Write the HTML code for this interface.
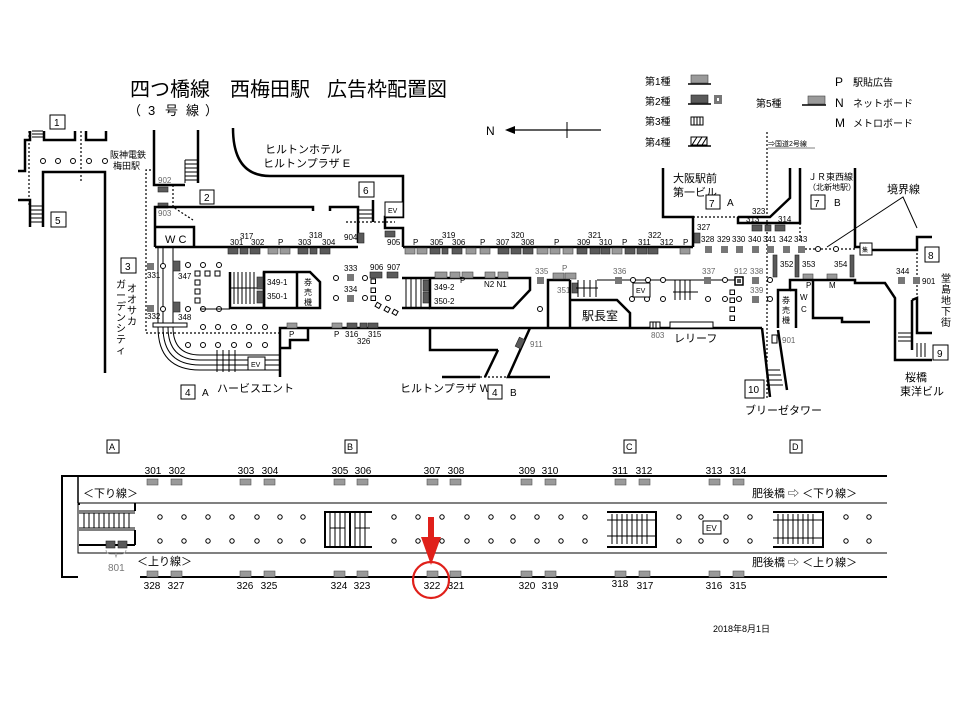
<!DOCTYPE html>
<html><head><meta charset="utf-8"><style>
html,body{margin:0;padding:0;background:#fff}
svg{display:block}
text{font-family:"Liberation Sans","Noto Sans CJK JP",sans-serif;fill:#000}
.s{font-size:8px;fill:#666}
.m{font-size:11px}
.w{stroke:#000;stroke-width:2.5;fill:none}
.t{stroke:#000;stroke-width:1;fill:none}
.d{stroke:#000;stroke-width:1.2;fill:none;stroke-dasharray:2,2}
.a{fill:#9a9a9a;stroke:#444;stroke-width:.6}
.k{fill:#5a5a5a;stroke:#222;stroke-width:.6}
.c{fill:#fff;stroke:#000;stroke-width:1}
.bx{fill:#fff;stroke:#000;stroke-width:1}
</style></head><body>
<svg width="960" height="720" viewBox="0 0 960 720" xmlns="http://www.w3.org/2000/svg">
<!-- Title -->
<g style="font-size:20px">
<text x="130" y="96">四つ橋線</text><text x="230" y="96">西梅田駅</text><text x="327" y="96">広告枠配置図</text>
</g>
<g style="font-size:13px"><text x="128" y="115">（</text><text x="148" y="115">3</text><text x="165" y="115">号</text><text x="186" y="115">線</text><text x="205" y="115">）</text></g>
<!-- legend -->
<g style="font-size:10px">
<text x="645" y="85">第1種</text><rect x="691" y="75" width="17" height="8" class="a"/><line x1="688" y1="84" x2="711" y2="84" stroke="#000" stroke-width="1.5"/>
<text x="645" y="105">第2種</text><rect x="691" y="95" width="17" height="8" class="k"/><line x1="688" y1="104" x2="711" y2="104" stroke="#000" stroke-width="1.5"/><rect x="714" y="95" width="8" height="9" fill="#777"/><rect x="717" y="98" width="2" height="3" fill="#fff"/>
<text x="645" y="125">第3種</text><rect x="691" y="117" width="12" height="8" fill="#fff" stroke="#000"/><path d="M694 117v8M697 117v8M700 117v8" stroke="#000"/>
<text x="645" y="146">第4種</text><rect x="691" y="137" width="16" height="8" fill="#fff" stroke="#000"/><path d="M692 145l5-8M697 145l5-8M702 145l5-8" stroke="#000"/><line x1="688" y1="146" x2="711" y2="146" stroke="#000" stroke-width="1.5"/>
<text x="756" y="107">第5種</text><rect x="808" y="96" width="17" height="8" class="a"/><line x1="802" y1="105" x2="826" y2="105" stroke="#000" stroke-width="1.5"/>
<text x="835" y="86" style="font-size:12px">P</text><text x="853" y="86">駅貼広告</text>
<text x="835" y="107" style="font-size:12px">N</text><text x="853" y="107">ネットボード</text>
<text x="835" y="127" style="font-size:12px">M</text><text x="853" y="127">メトロボード</text>
<text x="768" y="146" style="font-size:7px">⇒国道2号線</text><line x1="768" y1="148" x2="815" y2="148" stroke="#000" stroke-width=".5"/>
</g>
<!-- N arrow -->
<text x="486" y="135" style="font-size:12px">N</text>
<line x1="510" y1="130" x2="601" y2="130" stroke="#000" stroke-width="1.2"/><path d="M505 130l10-4v8z"/><line x1="567" y1="122" x2="567" y2="138" stroke="#000"/>

<!-- top-left area -->
<rect x="50" y="115" width="15" height="14" class="bx"/><text x="54" y="126" class="m" style="font-size:10px">1</text>
<polyline points="18,171 25,171 25,140 30,140 30,131" class="w"/>
<path d="M32 131h11M32 134h11M32 137h11" class="t"/>
<polyline points="44,131 44,140 75,140 75,131" class="w"/>
<polyline points="86,131 86,140 106,140 106,131" class="w"/>
<line x1="29" y1="131" x2="29" y2="205" class="d"/><line x1="81" y1="131" x2="81" y2="181" class="d"/>
<g class="c"><circle cx="43" cy="161" r="2.5"/><circle cx="58" cy="161" r="2.5"/><circle cx="73" cy="161" r="2.5"/><circle cx="89" cy="161" r="2.5"/><circle cx="105" cy="161" r="2.5"/></g>
<polyline points="43,227 43,172 105,172 105,373" class="w"/>
<polyline points="18,200 30,200 30,227" class="w"/>
<path d="M31 206h12M31 210h12M31 214h12M31 218h12M31 222h12" class="t"/>
<rect x="51" y="212" width="15" height="15" class="bx"/><text x="55" y="224" style="font-size:10px">5</text>
<text x="110" y="158" style="font-size:9px">阪神電鉄</text><text x="113" y="169" style="font-size:9px">梅田駅</text>
<polyline points="154,130 154,185 185,185" class="w"/><line x1="198" y1="130" x2="198" y2="183" class="w"/>
<path d="M185 160h13M185 164h13M185 168h13M185 172h13M185 176h13M185 180h13M185 160v23" class="t"/>
<text x="158" y="183" class="s">902</text><rect x="158" y="187" width="10" height="5" class="k"/>
<rect x="158" y="203" width="10" height="5" class="k"/><text x="158" y="216" class="s">903</text>
<polyline points="155,170 146,170 146,333 280,333" class="d"/>
<polyline points="173,185 173,207 193,220" class="d"/>
<rect x="200" y="190" width="14" height="14" class="bx"/><text x="204" y="201" style="font-size:10px">2</text>
<path d="M233 128 Q233 176 270 176 L403 176 L403 217 L385 217 L385 228 L403 228 L403 247" class="w"/>
<rect x="385" y="202" width="18" height="15" class="bx" stroke-width="2"/><text x="388" y="213" style="font-size:7px">EV</text>
<rect x="359" y="182" width="15" height="15" class="bx"/><text x="363" y="194" style="font-size:10px">6</text>
<text x="265" y="153" class="m">ヒルトンホテル</text><text x="263" y="167" class="m">ヒルトンプラザ E</text>
<polyline points="155,247 155,207 313,207 313,211" class="w"/>
<polyline points="330,211 330,207 358,207 358,243" class="w"/>
<path d="M358 210h14M358 214h14M358 218h14" class="t"/><line x1="373" y1="200" x2="373" y2="222" class="w" stroke-width="1.5"/>
<line x1="346" y1="222" x2="395" y2="222" class="d"/>
<polyline points="155,227 194,227 194,247" class="w"/><text x="165" y="243" style="font-size:11px">W  C</text>
<line x1="155" y1="247" x2="358" y2="247" class="w"/>
<line x1="403" y1="247" x2="693" y2="247" class="w"/>
<!-- top ads row -->
<g>
<rect x="228" y="248" width="10" height="6" class="k"/><rect x="240" y="248" width="8" height="6" class="k"/><rect x="250" y="248" width="10" height="6" class="k"/>
<rect x="268" y="248" width="10" height="6" class="a"/><rect x="280" y="248" width="10" height="6" class="a"/>
<rect x="298" y="248" width="10" height="6" class="k"/><rect x="310" y="248" width="7" height="6" class="k"/><rect x="320" y="248" width="10" height="6" class="k"/>
<rect x="358" y="233" width="6" height="10" class="k"/><rect x="385" y="231" width="10" height="6" class="k"/>
<rect x="405" y="248" width="10" height="6" class="a"/><rect x="417" y="248" width="10" height="6" class="a"/><rect x="430" y="248" width="10" height="6" class="k"/><rect x="442" y="248" width="6" height="6" class="k"/><rect x="452" y="248" width="10" height="6" class="k"/><rect x="466" y="248" width="10" height="6" class="a"/><rect x="480" y="248" width="10" height="6" class="a"/>
<rect x="498" y="248" width="11" height="6" class="k"/><rect x="511" y="248" width="10" height="6" class="k"/><rect x="523" y="248" width="10" height="6" class="k"/>
<rect x="537" y="248" width="11" height="6" class="a"/><rect x="550" y="248" width="10" height="6" class="a"/><rect x="563" y="248" width="10" height="6" class="a"/>
<rect x="577" y="248" width="10" height="6" class="k"/><rect x="590" y="248" width="10" height="6" class="k"/><rect x="601" y="248" width="9" height="6" class="k"/>
<rect x="612" y="248" width="10" height="6" class="a"/><rect x="625" y="248" width="10" height="6" class="k"/><rect x="637" y="248" width="10" height="6" class="k"/><rect x="648" y="248" width="10" height="6" class="k"/>
<rect x="680" y="248" width="10" height="6" class="a"/>
<rect x="694" y="233" width="6" height="10" class="k"/>
</g>
<g class="s">
<text x="230" y="245">301</text><text x="240" y="239">317</text><text x="251" y="245">302</text><text x="278" y="245">P</text><text x="298" y="245">303</text><text x="309" y="238">318</text><text x="322" y="245">304</text>
<text x="344" y="240">904</text><text x="387" y="245">905</text><text x="413" y="245">P</text><text x="430" y="245">305</text><text x="442" y="238">319</text><text x="452" y="245">306</text><text x="480" y="245">P</text><text x="496" y="245">307</text><text x="511" y="238">320</text><text x="521" y="245">308</text><text x="554" y="245">P</text><text x="577" y="245">309</text><text x="588" y="238">321</text><text x="599" y="245">310</text><text x="622" y="245">P</text><text x="638" y="245">311</text><text x="648" y="238">322</text><text x="660" y="245">312</text><text x="683" y="245">P</text><text x="697" y="230">327</text>
</g>
<!-- top right walls -->
<polyline points="663,168 663,217 693,217 693,247" class="w"/>
<line x1="693" y1="217" x2="738" y2="217" class="d"/>
<polyline points="738,217 738,223 800,223 800,168" class="w"/>
<polyline points="738,217 770,217 790,198 790,168" class="w"/>
<line x1="800" y1="223" x2="800" y2="240" class="d"/>
<line x1="767" y1="132" x2="767" y2="400" class="d"/>
<rect x="752" y="225" width="10" height="6" class="k"/><rect x="765" y="225" width="6" height="6" class="k"/><rect x="775" y="225" width="10" height="6" class="k"/>
<g class="s"><text x="752" y="214">323</text><text x="746" y="222">313</text><text x="778" y="222">314</text></g>
<text x="673" y="182" class="m">大阪駅前</text><text x="673" y="196" class="m">第一ビル</text>
<rect x="706" y="195" width="14" height="14" class="bx"/><text x="709" y="207" style="font-size:10px">7</text><text x="727" y="206" style="font-size:10px">A</text>
<text x="808" y="180" style="font-size:9px">ＪＲ東西線</text><text x="808" y="190" style="font-size:8px">（北新地駅）</text>
<rect x="811" y="195" width="14" height="14" class="bx"/><text x="814" y="207" style="font-size:10px">7</text><text x="834" y="206" style="font-size:10px">B</text>
<g>
<rect x="705" y="246" width="7" height="7" fill="#777"/><rect x="721" y="246" width="7" height="7" fill="#777"/><rect x="736" y="246" width="7" height="7" fill="#777"/><rect x="752" y="246" width="7" height="7" fill="#777"/><rect x="767" y="246" width="7" height="7" fill="#777"/><rect x="783" y="246" width="7" height="7" fill="#777"/><rect x="798" y="246" width="7" height="7" fill="#777"/>
</g>
<g class="s"><text x="701" y="242">328</text><text x="717" y="242">329</text><text x="732" y="242">330</text><text x="748" y="242">340</text><text x="763" y="242">341</text><text x="779" y="242">342</text><text x="794" y="242">343</text></g>
<line x1="805" y1="249" x2="855" y2="249" class="d"/>
<circle cx="818" cy="249" r="2.5" class="c"/><circle cx="836" cy="249" r="2.5" class="c"/>
<text x="887" y="193" class="m">境界線</text>
<polyline points="827,247 903,197 917,228" class="t"/>
<polyline points="855,168 855,247 860,247" class="w"/>
<rect x="860" y="243" width="12" height="12" class="bx" stroke-width="2"/><text x="862" y="252" style="font-size:6px">集</text>
<polyline points="872,250 917,250 917,237 932,237" class="w"/>
<line x1="917" y1="237" x2="917" y2="300" class="d"/>
<rect x="925" y="247" width="14" height="15" class="bx"/><text x="928" y="259" style="font-size:10px">8</text>
<g style="font-size:10px"><text x="941" y="282">堂</text><text x="941" y="293">島</text><text x="941" y="304">地</text><text x="941" y="315">下</text><text x="941" y="326">街</text></g>
<rect x="933" y="345" width="15" height="15" class="bx"/><text x="937" y="357" style="font-size:10px">9</text>
<text x="905" y="381" class="m">桜橋</text><text x="900" y="395" class="m">東洋ビル</text>
<!-- middle row left -->
<rect x="121" y="258" width="15" height="15" class="bx"/><text x="125" y="270" style="font-size:10px">3</text>
<g style="font-size:10px"><text x="127" y="292">オ</text><text x="127" y="303">オ</text><text x="127" y="314">サ</text><text x="127" y="325">カ</text>
<text x="116" y="288">ガ</text><text x="116" y="299">ー</text><text x="116" y="310">デ</text><text x="116" y="321">ン</text><text x="116" y="332">シ</text><text x="116" y="343">テ</text><text x="116" y="354">ィ</text></g>
<rect x="147" y="263" width="7" height="7" fill="#777"/><rect x="147" y="305" width="7" height="7" fill="#777"/>
<g class="s"><text x="147" y="278">331</text><text x="147" y="319">332</text><text x="178" y="279">347</text><text x="178" y="320">348</text></g>
<path d="M158 247V323M163 247V323M173 247V323" class="t"/>
<circle cx="163" cy="266" r="2.5" class="c"/><circle cx="163" cy="309" r="2.5" class="c"/>
<rect x="173" y="261" width="7" height="10" class="k"/><rect x="173" y="302" width="7" height="10" class="k"/>
<rect x="153" y="323" width="34" height="4" class="bx"/>
<path d="M158 327 Q158 370 200 370 L280 370 M163 327 Q163 365 200 365 L280 365 M168 327 Q168 360 200 360 L280 360 M173 327 Q173 355 200 355 L280 355" class="t"/>
<path d="M217 350v22M223 350v22M229 350v22M235 350v22" class="t"/>
<rect x="248" y="357" width="17" height="13" class="bx" stroke-width="2"/><text x="251" y="367" style="font-size:7px">EV</text>
<rect x="181" y="385" width="14" height="14" class="bx"/><text x="185" y="396" style="font-size:10px">4</text><text x="202" y="396" style="font-size:10px">A</text>
<text x="217" y="392" class="m">ハービスエント</text>
<g class="c"><circle cx="188" cy="265" r="2.5"/><circle cx="203" cy="265" r="2.5"/><circle cx="219" cy="265" r="2.5"/>
<rect x="195" y="271" width="5" height="5"/><rect x="205" y="271" width="5" height="5"/><rect x="215" y="271" width="5" height="5"/>
<rect x="195" y="280" width="5" height="5"/><rect x="195" y="289" width="5" height="5"/><rect x="195" y="298" width="5" height="5"/>
<circle cx="188" cy="309" r="2.5"/><circle cx="203" cy="309" r="2.5"/><circle cx="219" cy="309" r="2.5"/>
<circle cx="203" cy="327" r="2.5"/><circle cx="218" cy="327" r="2.5"/><circle cx="234" cy="327" r="2.5"/><circle cx="249" cy="327" r="2.5"/><circle cx="265" cy="327" r="2.5"/>
<circle cx="188" cy="345" r="2.5"/><circle cx="203" cy="345" r="2.5"/><circle cx="218" cy="345" r="2.5"/><circle cx="234" cy="345" r="2.5"/><circle cx="249" cy="345" r="2.5"/><circle cx="265" cy="345" r="2.5"/></g>
<line x1="200" y1="309" x2="230" y2="309" class="t"/>
<path d="M234 272v32M238 272v32M242 272v32M246 272v32M250 272v32M254 272v32M230 288h27" class="t"/>
<polyline points="230,272 230,308 320,308 320,282 310,272 264,272 264,308" class="w" stroke-width="2"/>
<line x1="264" y1="272" x2="264" y2="308" class="w" stroke-width="2"/><line x1="297" y1="272" x2="297" y2="308" class="w" stroke-width="2"/>
<rect x="257" y="277" width="6" height="12" class="k"/><rect x="257" y="291" width="6" height="12" class="k"/>
<g class="s"><text x="267" y="285">349-1</text><text x="267" y="299">350-1</text></g>
<g style="font-size:8px"><text x="304" y="285">券</text><text x="304" y="295">売</text><text x="304" y="305">機</text></g>
<!-- bottom wall -->
<polyline points="280,377 280,328 530,328" class="w"/>
<polyline points="280,348 290,348 290,340 308,340 308,328" class="w"/>
<rect x="287" y="323" width="10" height="5" class="a"/><rect x="332" y="323" width="10" height="5" class="a"/><rect x="347" y="323" width="10" height="5" class="k"/><rect x="360" y="323" width="7" height="5" class="k"/><rect x="368" y="323" width="10" height="5" class="k"/>
<g class="s"><text x="289" y="337">P</text><text x="334" y="337">P</text><text x="345" y="337">316</text><text x="368" y="337">315</text><text x="357" y="344">326</text></g>
<!-- center -->
<g class="c"><circle cx="336" cy="278" r="2.5"/><circle cx="336" cy="298" r="2.5"/><circle cx="365" cy="278" r="2.5"/><circle cx="365" cy="298" r="2.5"/><circle cx="388" cy="298" r="2.5"/>
<rect x="371" y="279" width="4.5" height="4.5"/><rect x="371" y="288" width="4.5" height="4.5"/><rect x="371" y="296" width="4.5" height="4.5"/>
<rect x="376" y="303" width="4.5" height="4.5" transform="rotate(30 378 305)"/><rect x="385" y="307" width="4.5" height="4.5" transform="rotate(30 387 309)"/><rect x="393" y="310" width="4.5" height="4.5" transform="rotate(30 395 312)"/></g>
<rect x="347" y="274" width="7" height="7" fill="#777"/><rect x="347" y="295" width="7" height="7" fill="#777"/>
<g class="s"><text x="344" y="271">333</text><text x="344" y="292">334</text><text x="370" y="270">906</text><text x="387" y="270">907</text></g>
<rect x="370" y="272" width="12" height="6" class="k"/><rect x="387" y="272" width="11" height="6" class="k"/>
<path d="M406 279v28M411 279v28M416 279v28M421 279v28" class="t"/>
<rect x="423" y="280" width="7" height="11" class="k"/><rect x="423" y="292" width="7" height="11" class="k"/>
<polyline points="402,278 530,278 530,290 513,308 430,308 430,278" class="w" stroke-width="2"/>
<line x1="402" y1="308" x2="430" y2="308" class="w" stroke-width="2"/>
<rect x="435" y="272" width="12" height="6" class="a"/><rect x="450" y="272" width="10" height="6" class="a"/><rect x="462" y="272" width="11" height="6" class="a"/>
<rect x="485" y="272" width="10" height="6" class="a"/><rect x="498" y="272" width="10" height="6" class="a"/>
<g class="s"><text x="434" y="290">349-2</text><text x="434" y="304">350-2</text><text x="460" y="283">P</text><text x="484" y="287">N2 N1</text></g>
<!-- lower center walls -->
<polyline points="430,328 430,350 498,350" class="w"/>
<polyline points="442,377 480,377" class="w"/><line x1="480" y1="377" x2="522" y2="377" class="d"/>
<polyline points="498,350 485,377" class="w"/>
<polyline points="530,328 762,328" class="w"/>
<polyline points="530,328 508,377 550,377" class="w"/>
<rect x="517" y="338" width="6" height="10" class="k" transform="rotate(25 520 343)"/><text x="530" y="347" class="s">911</text>
<text x="400" y="392" class="m">ヒルトンプラザ W</text>
<rect x="488" y="385" width="14" height="14" class="bx"/><text x="492" y="396" style="font-size:10px">4</text><text x="510" y="396" style="font-size:10px">B</text>
<rect x="537" y="277" width="7" height="7" fill="#777"/><text x="535" y="274" class="s">335</text><circle cx="540" cy="309" r="2.5" class="c"/>
<polyline points="548,328 548,280 570,280" class="w" stroke-width="2"/>
<rect x="553" y="273" width="11" height="6" class="a"/><rect x="565" y="273" width="11" height="6" class="a"/><text x="562" y="271" class="s">P</text>
<rect x="572" y="283" width="6" height="10" class="k"/><text x="557" y="293" class="s">351</text>
<polyline points="570,328 570,280" class="w" stroke-width="2"/>
<path d="M578 280v17M584 280v17M590 280v17M596 280v17M576 288h22" class="t"/>
<polyline points="570,300 617,300 630,313 630,328" class="w" stroke-width="2"/>
<text x="582" y="320" style="font-size:12px">駅長室</text>
<line x1="597" y1="280" x2="737" y2="280" class="t"/>
<rect x="615" y="277" width="7" height="7" fill="#777"/><text x="613" y="274" class="s">336</text>
<g class="c"><circle cx="633" cy="280" r="2.5"/><circle cx="648" cy="280" r="2.5"/><circle cx="663" cy="280" r="2.5"/><circle cx="632" cy="299" r="2.5"/><circle cx="647" cy="299" r="2.5"/><circle cx="663" cy="299" r="2.5"/>
<circle cx="725" cy="280" r="2.5"/><circle cx="708" cy="299" r="2.5"/><circle cx="725" cy="299" r="2.5"/><circle cx="739" cy="299" r="2.5"/><circle cx="770" cy="280" r="2.5"/><circle cx="770" cy="299" r="2.5"/>
<rect x="730" y="290" width="4.5" height="4.5"/><rect x="730" y="298" width="4.5" height="4.5"/><rect x="730" y="307" width="4.5" height="4.5"/><rect x="730" y="316" width="4.5" height="4.5"/></g>
<rect x="633" y="283" width="17" height="14" class="bx" stroke-width="2"/><text x="636" y="293" style="font-size:7px">EV</text>
<path d="M675 280v20M680 280v20M685 280v20M690 280v20M673 292h25" class="t"/>
<rect x="704" y="277" width="7" height="7" fill="#777"/><text x="702" y="274" class="s">337</text>
<rect x="735" y="277" width="8" height="8" fill="#fff" stroke="#000" stroke-width="1.5"/><rect x="737" y="279" width="4" height="4" fill="#555"/><text x="734" y="274" class="s">912</text>
<rect x="752" y="277" width="7" height="7" fill="#777"/><text x="750" y="274" class="s">338</text>
<rect x="752" y="296" width="7" height="7" fill="#777"/><text x="750" y="293" class="s">339</text>
<rect x="650" y="322" width="10" height="6" fill="#fff" stroke="#000"/><path d="M653 322v6M656 322v6" class="t"/><text x="651" y="338" class="s">803</text>
<rect x="670" y="322" width="43" height="6" fill="#fff" stroke="#000"/><text x="674" y="342" class="m">レリーフ</text>
<polyline points="762,328 770,397" class="w"/><polyline points="778,330 787,390" class="w"/>
<path d="M767 370h13M768 375h13M768 380h14M769 385h14" class="t"/>
<rect x="772" y="335" width="5" height="8" fill="#fff" stroke="#000"/><text x="782" y="343" class="s">901</text>
<rect x="745" y="380" width="19" height="18" class="bx"/><text x="748" y="393" style="font-size:10px">10</text>
<text x="745" y="414" class="m">ブリーゼタワー</text>
<!-- right block -->
<rect x="773" y="255" width="4" height="22" class="k"/><rect x="795" y="255" width="4" height="22" class="k"/><rect x="850" y="255" width="4" height="22" class="k"/>
<g class="s"><text x="780" y="267">352</text><text x="802" y="267">353</text><text x="834" y="267">354</text></g>
<rect x="803" y="274" width="10" height="6" class="a"/><rect x="827" y="274" width="10" height="6" class="a"/>
<g class="s"><text x="806" y="288">P</text><text x="829" y="288">M</text></g>
<polyline points="778,328 778,290 790,290 790,280 855,280 855,283 885,283 895,298 895,360 932,360" class="w" stroke-width="2"/>
<polyline points="790,290 796,290 796,328" class="w" stroke-width="2"/>
<polyline points="813,280 813,318 842,318 842,322 870,322" class="w" stroke-width="2"/>
<g style="font-size:8px"><text x="782" y="303">券</text><text x="782" y="313">売</text><text x="782" y="323">機</text><text x="800" y="300">W</text><text x="801" y="312">C</text></g>
<polyline points="912,300 917,298 917,333 932,333" class="w" stroke-width="2"/><line x1="912" y1="300" x2="912" y2="350" class="w" stroke-width="2"/>
<path d="M898 333h14M898 337h14M898 341h14M917 343v14M921 343v14M925 343v14" class="t"/>
<rect x="898" y="277" width="7" height="7" fill="#777"/><rect x="913" y="277" width="7" height="7" fill="#777"/>
<g class="s"><text x="896" y="274">344</text><text x="922" y="284">901</text></g>

<!-- bottom platform diagram -->
<g style="font-size:9px">
<rect x="107" y="440" width="12" height="13" class="bx"/><text x="109" y="450">A</text>
<rect x="345" y="440" width="12" height="13" class="bx"/><text x="347" y="450">B</text>
<rect x="624" y="440" width="12" height="13" class="bx"/><text x="626" y="450">C</text>
<rect x="790" y="440" width="12" height="13" class="bx"/><text x="792" y="450">D</text>
</g>
<polyline points="887,476 62,476 62,577 78,577" stroke="#000" stroke-width="2" fill="none"/>
<line x1="78" y1="476" x2="78" y2="503" stroke="#000" stroke-width="1.5"/>
<line x1="140" y1="577" x2="887" y2="577" stroke="#000" stroke-width="2"/>
<polyline points="887,503 78,503 78,553 887,553" stroke="#000" stroke-width="1" fill="none"/>
<g fill="#9a9a9a" stroke="#555" stroke-width=".6">
<rect x="147" y="479" width="11" height="6"/><rect x="171" y="479" width="11" height="6"/><rect x="240" y="479" width="11" height="6"/><rect x="264" y="479" width="11" height="6"/><rect x="334" y="479" width="11" height="6"/><rect x="357" y="479" width="11" height="6"/><rect x="427" y="479" width="11" height="6"/><rect x="450" y="479" width="11" height="6"/><rect x="521" y="479" width="11" height="6"/><rect x="545" y="479" width="11" height="6"/><rect x="615" y="479" width="11" height="6"/><rect x="639" y="479" width="11" height="6"/><rect x="709" y="479" width="11" height="6"/><rect x="733" y="479" width="11" height="6"/>
<rect x="147" y="571" width="11" height="6"/><rect x="171" y="571" width="11" height="6"/><rect x="240" y="571" width="11" height="6"/><rect x="264" y="571" width="11" height="6"/><rect x="334" y="571" width="11" height="6"/><rect x="357" y="571" width="11" height="6"/><rect x="427" y="571" width="11" height="6"/><rect x="450" y="571" width="11" height="6"/><rect x="521" y="571" width="11" height="6"/><rect x="545" y="571" width="11" height="6"/><rect x="615" y="571" width="11" height="6"/><rect x="639" y="571" width="11" height="6"/><rect x="709" y="571" width="11" height="6"/><rect x="733" y="571" width="11" height="6"/>
</g>
<g style="font-size:10px" text-anchor="middle">
<text x="153" y="474">301</text><text x="177" y="474">302</text><text x="246" y="474">303</text><text x="270" y="474">304</text><text x="340" y="474">305</text><text x="363" y="474">306</text><text x="432" y="474">307</text><text x="456" y="474">308</text><text x="527" y="474">309</text><text x="550" y="474">310</text><text x="620" y="474">311</text><text x="644" y="474">312</text><text x="714" y="474">313</text><text x="738" y="474">314</text>
<text x="152" y="589">328</text><text x="176" y="589">327</text><text x="245" y="589">326</text><text x="269" y="589">325</text><text x="339" y="589">324</text><text x="362" y="589">323</text><text x="432" y="589">322</text><text x="456" y="589">321</text><text x="527" y="589">320</text><text x="550" y="589">319</text><text x="620" y="587">318</text><text x="645" y="589">317</text><text x="714" y="589">316</text><text x="738" y="589">315</text>
</g>
<text x="83" y="497" style="font-size:11px">＜下り線＞</text>
<text x="137" y="565" style="font-size:11px">＜上り線＞</text>
<text x="752" y="497" style="font-size:11px">肥後橋 ⇨ ＜下り線＞</text>
<text x="752" y="566" style="font-size:11px">肥後橋 ⇨ ＜上り線＞</text>
<!-- A escalator -->
<g class="t"><path d="M79 511h56M79 530h56M79 513h56M79 528h56"/>
<path d="M84 513v15M89 513v15M94 513v15M99 513v15M104 513v15M109 513v15M114 513v15M119 513v15M124 513v15M129 513v15"/></g>
<path d="M79 503v2M135 503v8M135 530v15M79 545h56" stroke="#000" stroke-width="2" fill="none"/>
<rect x="106" y="541" width="9" height="7" class="k"/><rect x="118" y="541" width="9" height="7" class="k"/>
<path d="M106 550 q0 4 5 4 h4 q0 0 1 3 q1 -3 1 -3 h4 q5 0 5 -4" stroke="#999" fill="none" stroke-width=".8"/>
<text x="108" y="571" style="font-size:10px;fill:#777">801</text>
<!-- circles -->
<g class="c">
<circle cx="160" cy="517" r="2.2"/><circle cx="184" cy="517" r="2.2"/><circle cx="208" cy="517" r="2.2"/><circle cx="232" cy="517" r="2.2"/><circle cx="257" cy="517" r="2.2"/><circle cx="280" cy="517" r="2.2"/><circle cx="303" cy="517" r="2.2"/>
<circle cx="160" cy="541" r="2.2"/><circle cx="184" cy="541" r="2.2"/><circle cx="208" cy="541" r="2.2"/><circle cx="232" cy="541" r="2.2"/><circle cx="257" cy="541" r="2.2"/><circle cx="280" cy="541" r="2.2"/><circle cx="303" cy="541" r="2.2"/>
<circle cx="394" cy="517" r="2.2"/><circle cx="418" cy="517" r="2.2"/><circle cx="442" cy="517" r="2.2"/><circle cx="467" cy="517" r="2.2"/><circle cx="491" cy="517" r="2.2"/><circle cx="513" cy="517" r="2.2"/><circle cx="537" cy="517" r="2.2"/><circle cx="561" cy="517" r="2.2"/><circle cx="585" cy="517" r="2.2"/>
<circle cx="394" cy="541" r="2.2"/><circle cx="418" cy="541" r="2.2"/><circle cx="442" cy="541" r="2.2"/><circle cx="467" cy="541" r="2.2"/><circle cx="491" cy="541" r="2.2"/><circle cx="513" cy="541" r="2.2"/><circle cx="537" cy="541" r="2.2"/><circle cx="561" cy="541" r="2.2"/><circle cx="585" cy="541" r="2.2"/>
<circle cx="679" cy="517" r="2.2"/><circle cx="701" cy="517" r="2.2"/><circle cx="726" cy="517" r="2.2"/><circle cx="750" cy="517" r="2.2"/>
<circle cx="679" cy="541" r="2.2"/><circle cx="701" cy="541" r="2.2"/><circle cx="726" cy="541" r="2.2"/><circle cx="750" cy="541" r="2.2"/>
<circle cx="846" cy="517" r="2.2"/><circle cx="869" cy="517" r="2.2"/><circle cx="846" cy="541" r="2.2"/><circle cx="869" cy="541" r="2.2"/>
</g>
<!-- B stairs -->
<path d="M372 512h-47v35h47" stroke="#000" stroke-width="2" fill="none"/>
<path d="M330 513v33M335 513v33M340 513v33M345 513v33M355 513v33M360 513v33M365 513v33M330 528h15M355 528h15" class="t"/>
<line x1="350" y1="513" x2="350" y2="546" stroke="#000" stroke-width="2"/>
<!-- C stairs -->
<path d="M607 512h49v35h-49" stroke="#000" stroke-width="2" fill="none"/>
<path d="M607 520h49M607 536h49M612 514v30M617 514v30M622 514v30M627 514v30M632 514v30M637 514v30M642 514v30M647 514v30" class="t"/>
<!-- EV -->
<rect x="703" y="521" width="18" height="13" class="bx" stroke-width="2"/><text x="706" y="531" style="font-size:8px">EV</text>
<!-- D stairs -->
<path d="M773 512h50v35h-50" stroke="#000" stroke-width="2" fill="none"/>
<path d="M773 520h50M773 538h50M778 514v30M783 514v30M788 514v30M793 514v30M798 514v30M803 514v30M808 514v30M813 514v30" class="t"/>
<!-- red arrow & circle -->
<rect x="428" y="517" width="6" height="22" fill="#e0201a"/>
<path d="M421 537h20l-10 28z" fill="#e0201a"/>
<circle cx="431" cy="580" r="18" fill="none" stroke="#e0201a" stroke-width="2.2"/>
<text x="713" y="632" style="font-size:9px">2018年8月1日</text>
</svg>
</body></html>
